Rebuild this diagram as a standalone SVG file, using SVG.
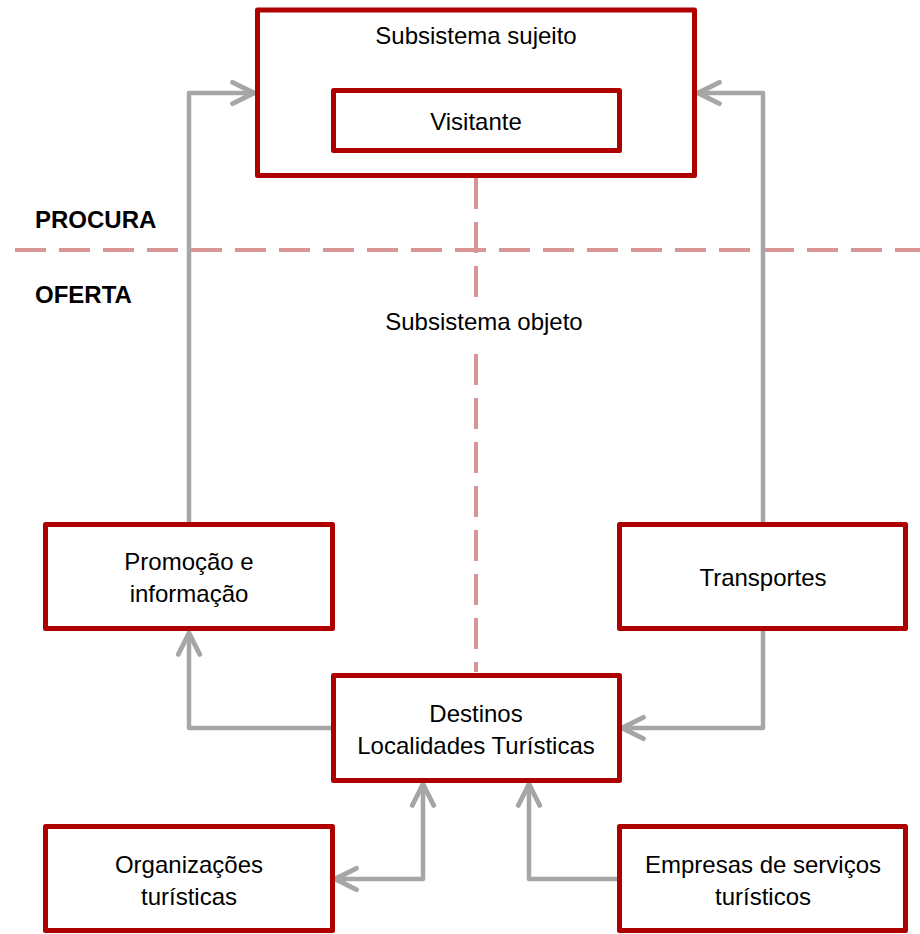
<svg xmlns="http://www.w3.org/2000/svg" width="920" height="934" viewBox="0 0 920 934">
  <style>
    .box { fill: #ffffff; stroke: #AF0000; stroke-width: 5; stroke-linejoin: round; }
    .lbl { font-family: "Liberation Sans", Arial, sans-serif; font-size: 24px; fill: #000000; text-anchor: middle; }
    .side { font-family: "Liberation Sans", Arial, sans-serif; font-size: 24px; font-weight: bold; fill: #000000; }
    .split { fill: none; stroke: #D99594; stroke-width: 4; stroke-dasharray: 31 13; }
    .link { fill: none; stroke: #A6A6A6; stroke-width: 4.5; stroke-linecap: round; stroke-linejoin: round; }
  </style>
  <defs>
    <marker id="chev" markerUnits="userSpaceOnUse" markerWidth="30" markerHeight="30" viewBox="-24 -14 28 28" refX="0" refY="0" orient="auto-start-reverse">
      <path d="M-20,-10 L0,0 L-20,10" fill="none" stroke="#A6A6A6" stroke-width="4.5" stroke-linecap="round" stroke-linejoin="round"/>
    </marker>
  </defs>

  <rect width="920" height="934" fill="#ffffff"/>

  <!-- demand / supply split -->
  <g id="split">
    <line class="split" x1="15" y1="250" x2="920" y2="250"/>
    <line class="split" x1="476" y1="178" x2="476" y2="672"/>
  </g>

  <g id="connectors">
    <path class="link" d="M189,522 L189,93 L254,93" marker-end="url(#chev)"/>
    <path class="link" d="M763,522 L763,93 L698,93" marker-end="url(#chev)"/>
    <path class="link" d="M331,728 L189,728 L189,633" marker-end="url(#chev)"/>
    <path class="link" d="M763,631 L763,728 L622,728" marker-end="url(#chev)"/>
    <path class="link" d="M335,879 L423,879 L423,784" marker-start="url(#chev)" marker-end="url(#chev)"/>
    <path class="link" d="M617,879 L529,879 L529,784" marker-end="url(#chev)"/>
  </g>

  <g id="sujeito">
    <rect class="box" x="257.5" y="10" width="437" height="165.5"/>
    <text class="lbl" x="476" y="44">Subsistema sujeito</text>
  </g>

  <g id="visitante">
    <rect class="box" x="333.5" y="90.5" width="286" height="60"/>
    <text class="lbl" x="476" y="130">Visitante</text>
  </g>

  <g id="procura">
    <text class="side" x="35" y="228">PROCURA</text>
  </g>
  <g id="oferta">
    <text class="side" x="35" y="303">OFERTA</text>
  </g>

  <g id="objeto">
    <rect x="378" y="305" width="212" height="36" fill="#ffffff"/>
    <text class="lbl" x="484" y="330">Subsistema objeto</text>
  </g>

  <g id="promocao">
    <rect class="box" x="45.5" y="524.5" width="287" height="104"/>
    <text class="lbl" x="189" y="570">Promoção e</text>
    <text class="lbl" x="189" y="602">informação</text>
  </g>

  <g id="transportes">
    <rect class="box" x="619.5" y="524.5" width="286" height="104"/>
    <text class="lbl" x="763" y="586">Transportes</text>
  </g>

  <g id="destinos">
    <rect class="box" x="333.5" y="675.5" width="286" height="105"/>
    <text class="lbl" x="476" y="722">Destinos</text>
    <text class="lbl" x="476" y="754">Localidades Turísticas</text>
  </g>

  <g id="organizacoes">
    <rect class="box" x="45.5" y="826.5" width="287" height="104"/>
    <text class="lbl" x="189" y="873">Organizações</text>
    <text class="lbl" x="189" y="905">turísticas</text>
  </g>

  <g id="empresas">
    <rect class="box" x="619.5" y="826.5" width="286" height="104"/>
    <text class="lbl" x="763" y="873">Empresas de serviços</text>
    <text class="lbl" x="763" y="905">turísticos</text>
  </g>
</svg>
